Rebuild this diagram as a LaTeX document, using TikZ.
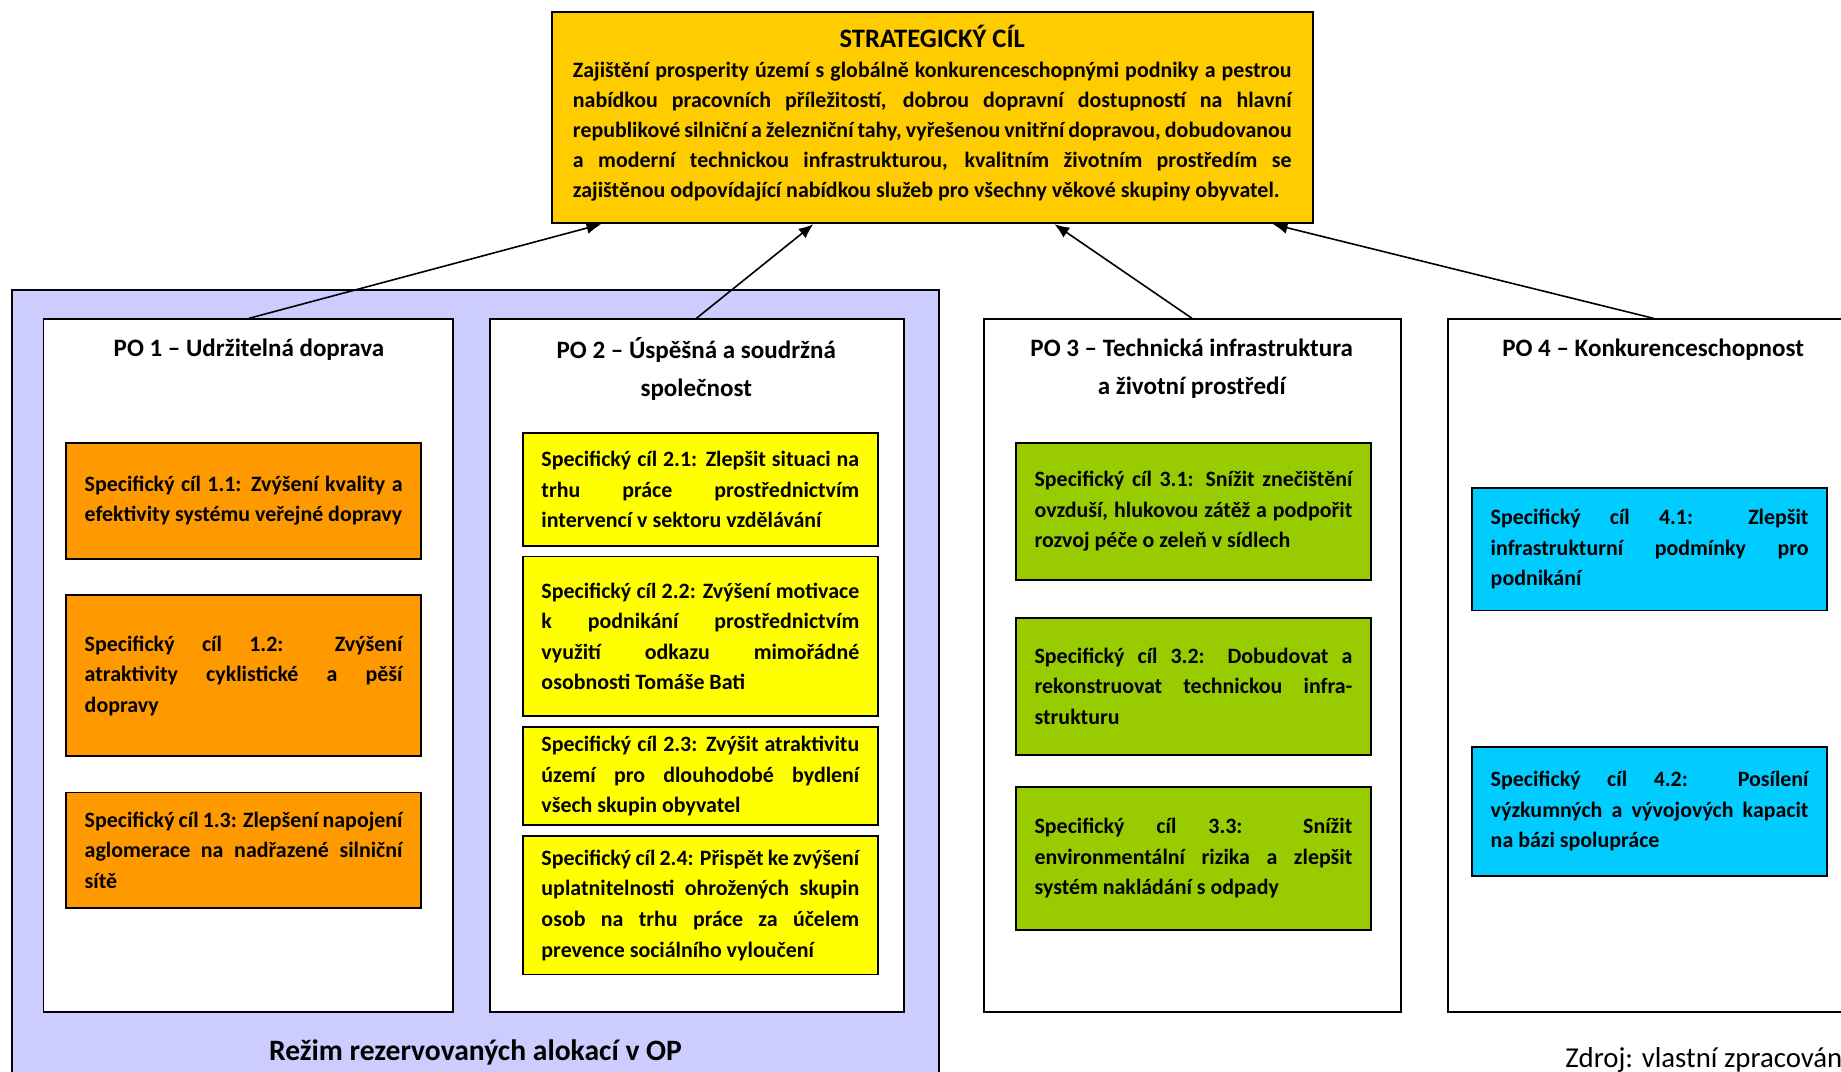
\documentclass[tikz,border=0pt]{standalone}
\usepackage{fontspec}
\setmainfont{Carlito}
\usetikzlibrary{arrows.meta,calc}
\hyphenpenalty=10000
\exhyphenpenalty=10000

\definecolor{zlata}{HTML}{FFCC00}
\definecolor{levandule}{HTML}{CCCCFF}
\definecolor{oranz}{HTML}{FF9900}
\definecolor{zluta}{HTML}{FFFF00}
\definecolor{zelena}{HTML}{99CC00}
\definecolor{azur}{HTML}{00CCFF}

\begin{document}
\begin{tikzpicture}[x=0.75pt, y=-0.75pt, scale=1.1741, transform shape]
\tikzset{ >={Latex[length=11pt,width=9pt]}, inner sep=0pt,
  box/.style={draw=black, rectangle, line width=1.4pt},
  cil/.style={box, inner xsep=12pt, inner ysep=0pt, text width=203pt, align=justify,
              font=\fontsize{14}{19.5}\selectfont\bfseries},
  nadpis/.style={align=center, font=\fontsize{16}{24}\selectfont\bfseries},
  sipka/.style={->, line width=1.2pt},
}

\useasboundingbox (0,0) rectangle (1568,912.2);

% rezim rezervovanych alokaci
\node [box, fill=levandule, minimum width=592.5pt, minimum height=512.25pt] (L) at (405,588.5) {};
\node [font=\fontsize{18.9}{22}\selectfont\bfseries] (LT) at (405,896) {Režim rezervovaných alokací v OP};

% prioritni osy
\node [box, fill=white, minimum width=261.75pt, minimum height=442.5pt] (P1) at (211.5,567) {};
\node [box, fill=white, minimum width=264.75pt, minimum height=442.5pt] (P2) at (593.5,567) {};
\node [box, fill=white, minimum width=266.25pt, minimum height=442.5pt] (P3) at (1015.5,567) {};
\node [box, fill=white, minimum width=262.5pt,  minimum height=442.5pt] (P4) at (1408,567) {};

\node [nadpis] (T1) at (212,298)  {PO 1 – Udržitelná doprava};
\node [nadpis] (T2) at (593,314)  {PO 2 – Úspěšná a soudržná\\společnost};
\node [nadpis] (T3) at (1015,314) {PO 3 – Technická infrastruktura\\a životní prostředí};
\node [nadpis] (T4) at (1408,298) {PO 4 – Konkurenceschopnost};

% PO 1
\node [cil, fill=oranz, minimum height=74.25pt] (C11) at (207.5,426.5)
  {Specifický cíl 1.1: Zvýšení kvality a\linebreak efektivity systému veřejné dopravy};
\node [cil, fill=oranz, minimum height=102.75pt] (C12) at (207.5,575.5)
  {Specifický cíl 1.2: Zvýšení\linebreak atraktivity cyklistické a pěší\linebreak dopravy};
\node [cil, fill=oranz, minimum height=73.5pt] (C13) at (207.5,724)
  {Specifický cíl 1.3: Zlepšení napojení\linebreak aglomerace na nadřazené silniční\linebreak sítě};

% PO 2
\node [cil, fill=zluta, minimum height=72pt] (C21) at (596.5,417)
  {Specifický cíl 2.1: Zlepšit situaci na\linebreak trhu práce prostřednictvím\linebreak intervencí v sektoru vzdělávání};
\node [cil, fill=zluta, minimum height=102pt] (C22) at (596.5,542)
  {Specifický cíl 2.2: Zvýšení motivace\linebreak k podnikání prostřednictvím\linebreak využití odkazu mimořádné\linebreak osobnosti Tomáše Bati};
\node [cil, fill=zluta, minimum height=63pt] (C23) at (596.5,661)
  {Specifický cíl 2.3: Zvýšit atraktivitu\linebreak území pro dlouhodobé bydlení\linebreak všech skupin obyvatel};
\node [cil, fill=zluta, minimum height=88.5pt] (C24) at (596.5,771)
  {Specifický cíl 2.4: Přispět ke zvýšení\linebreak uplatnitelnosti ohrožených skupin\linebreak osob na trhu práce za účelem\linebreak prevence sociálního vyloučení};

% PO 3
\node [cil, fill=zelena, minimum height=87.75pt] (C31) at (1016.5,435.5)
  {Specifický cíl 3.1: Snížit znečištění\linebreak ovzduší, hlukovou zátěž a podpořit\linebreak rozvoj péče o zeleň v sídlech};
\node [cil, fill=zelena, minimum height=87.75pt] (C32) at (1016.5,584.5)
  {Specifický cíl 3.2: Dobudovat a\linebreak rekonstruovat technickou infra-\linebreak strukturu};
\node [cil, fill=zelena, minimum height=91.5pt] (C33) at (1016.5,731)
  {Specifický cíl 3.3: Snížit\linebreak environmentální rizika a zlepšit\linebreak systém nakládání s odpady};

% PO 4
\node [cil, fill=azur, minimum height=78pt] (C41) at (1405,468)
  {Specifický cíl 4.1: Zlepšit\linebreak infrastrukturní podmínky pro\linebreak podnikání};
\node [cil, fill=azur, minimum height=82.5pt] (C42) at (1405,691)
  {Specifický cíl 4.2: Posílení\linebreak výzkumných a vývojových kapacit\linebreak na bázi spolupráce};

% strategicky cil
\node [box, fill=zlata, minimum width=486pt, minimum height=135pt] (S) at (794,100) {};
\node [font=\fontsize{17}{20}\selectfont\bfseries] (ST) at (794,31) {STRATEGICKÝ CÍL};
\node [align=justify, text width=459pt, font=\fontsize{14}{19.2}\selectfont\bfseries] (SB) at (794,112)
  {Zajištění prosperity území s~globálně konkurenceschopnými podniky a pestrou\linebreak
   nabídkou pracovních příležitostí, dobrou dopravní dostupností na hlavní\linebreak
   republikové silniční a železniční tahy, vyřešenou vnitřní dopravou, dobudovanou\linebreak
   a moderní technickou infrastrukturou, kvalitním životním prostředím se\linebreak
   zajištěnou odpovídající nabídkou služeb pro všechny věkové skupiny obyvatel.};

% sipky
\draw [sipka] (T1 |- P1.north) -- ($(S.south west)!0.066!(S.south east)$);
\draw [sipka] (T2 |- P2.north) -- ($(S.south west)!0.344!(S.south east)$);
\draw [sipka] (T3 |- P3.north) -- ($(S.south west)!0.660!(S.south east)$);
\draw [sipka] (T4 |- P4.north) -- ($(S.south west)!0.946!(S.south east)$);

% zdroj
\node [anchor=west, font=\fontsize{18.4}{22}\selectfont] (Z) at (1333,903) {Zdroj: vlastní zpracování};

\end{tikzpicture}
\end{document}
